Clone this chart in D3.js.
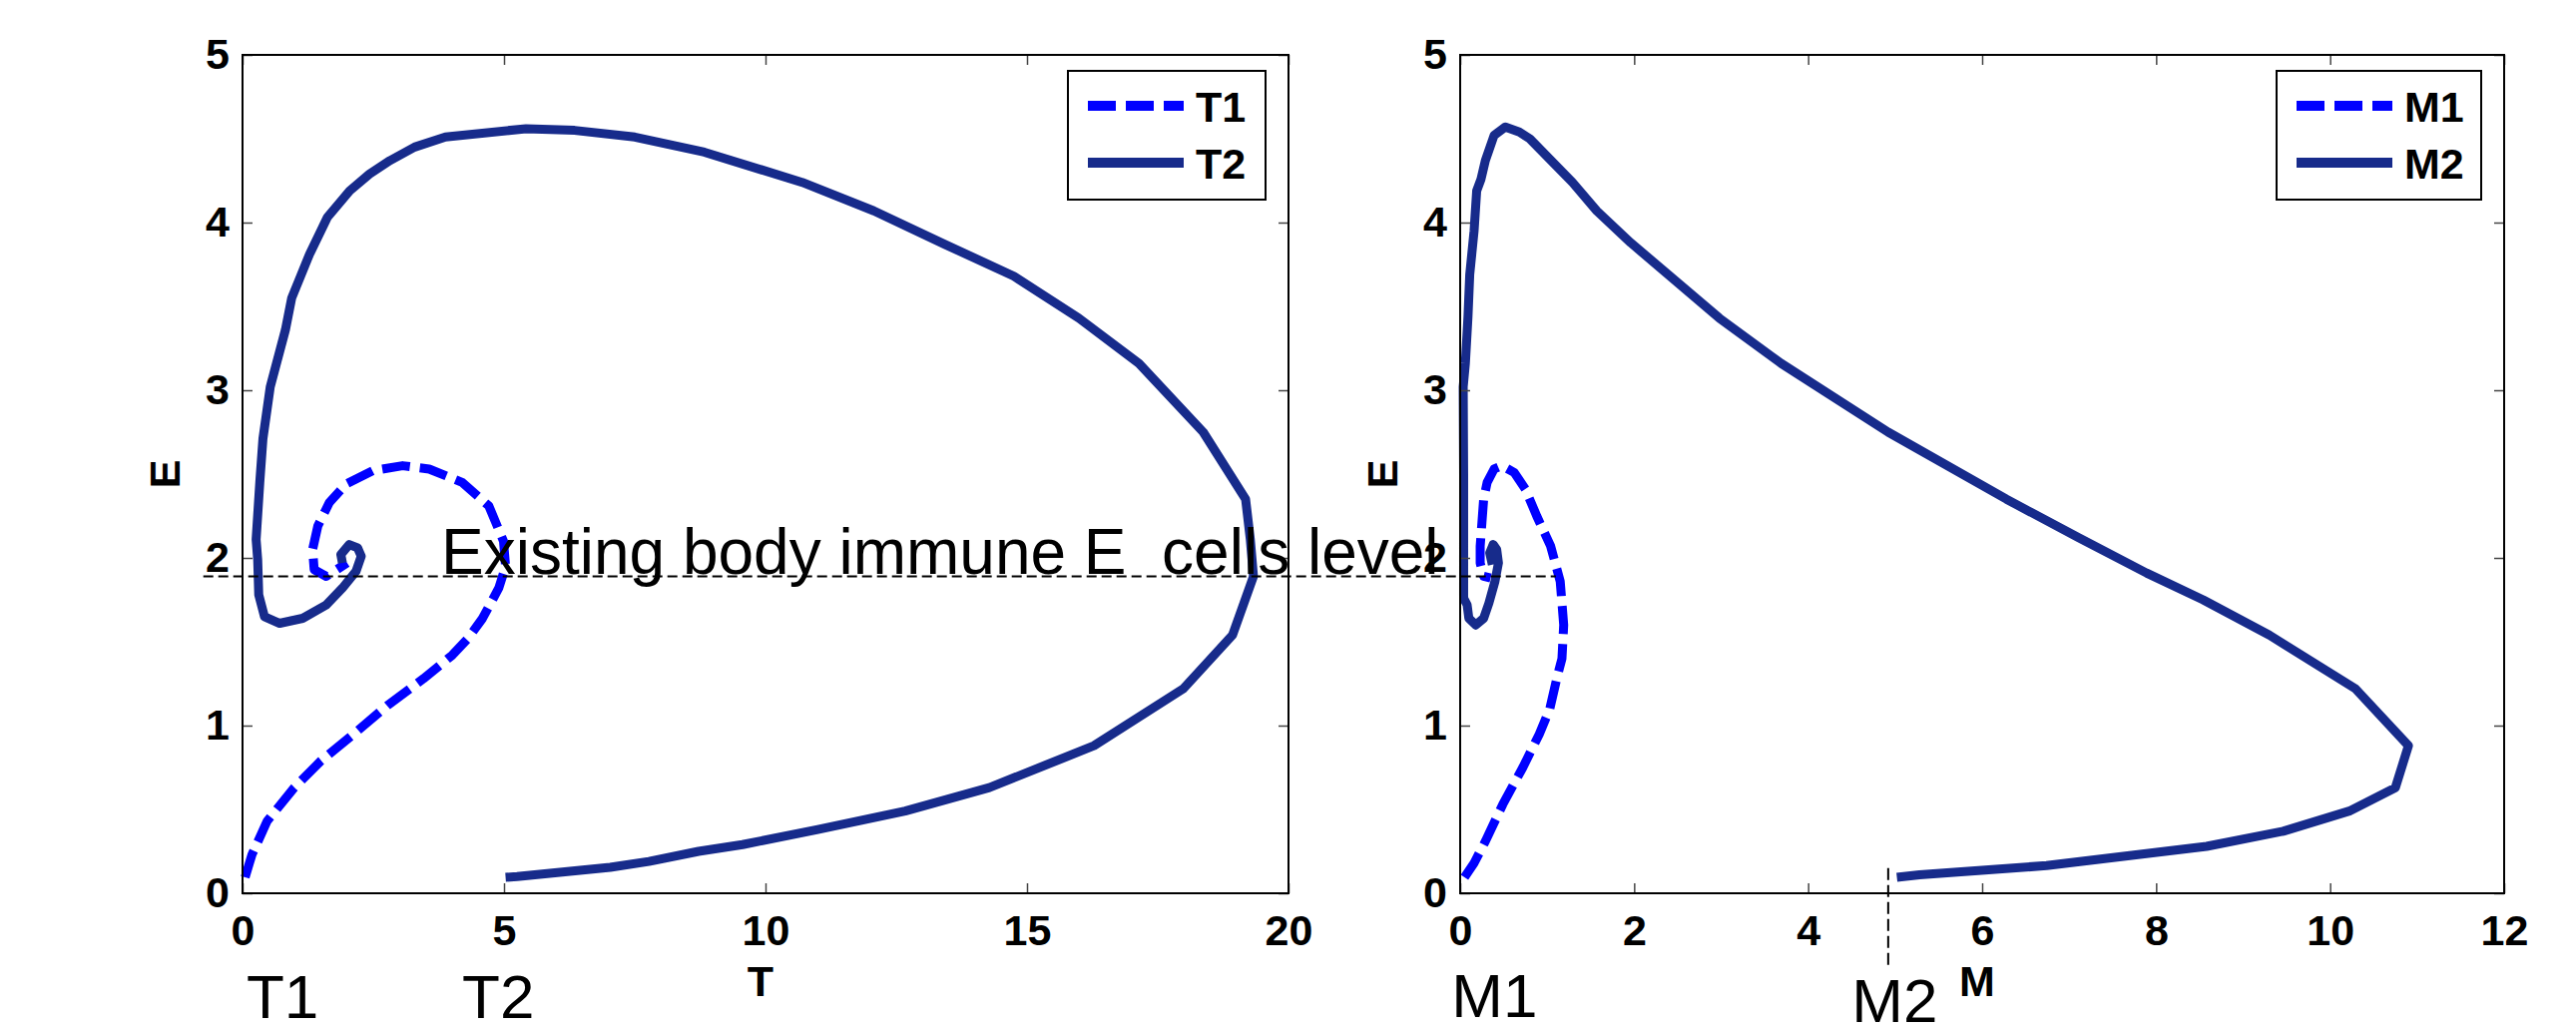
<!DOCTYPE html>
<html>
<head>
<meta charset="utf-8">
<script src="https://cdn.jsdelivr.net/npm/d3@7"></script>
<style>
  html, body { margin: 0; padding: 0; background: #fff; }
  svg text { font-family: "Liberation Sans", Arial, sans-serif; }
</style>
</head>
<body>
<div id="chart"></div>
<script>
// Trajectories: E against T (left) and E against M (right)
const t1T = [0.05, 0.18, 0.47, 0.99, 1.5, 2.09, 2.77, 3.46, 4.01, 4.31, 4.59, 4.9, 5.03, 4.99, 4.71, 4.20, 3.57, 3.06, 2.49, 1.98, 1.66, 1.44, 1.34, 1.37, 1.60, 2.0];
const t1E = [0.095, 0.23, 0.43, 0.63, 0.79, 0.94, 1.12, 1.28, 1.42, 1.52, 1.64, 1.82, 1.95, 2.10, 2.31, 2.45, 2.53, 2.55, 2.52, 2.44, 2.33, 2.19, 2.05, 1.93, 1.89, 1.97];

const t2T = [5.03, 5.25, 7.03, 7.77, 8.72, 9.56, 11.0, 12.67, 14.28, 16.28, 17.99, 18.93, 19.33, 19.27, 19.18, 18.37, 17.14, 15.99, 14.75, 13.43, 12.07, 10.7, 8.83, 7.5, 6.35, 5.42, 3.88, 3.29, 2.82, 2.43, 2.05, 1.62, 1.28, 0.94, 0.82, 0.53, 0.39, 0.33, 0.26, 0.29, 0.31, 0.42, 0.71, 1.15, 1.60, 1.91, 2.17, 2.27, 2.20, 2.04, 1.88, 1.91];
const t2E = [0.095, 0.10, 0.155, 0.19, 0.25, 0.29, 0.38, 0.49, 0.63, 0.88, 1.22, 1.54, 1.89, 2.11, 2.35, 2.75, 3.16, 3.43, 3.68, 3.87, 4.07, 4.24, 4.42, 4.51, 4.55, 4.56, 4.51, 4.45, 4.37, 4.29, 4.19, 4.03, 3.81, 3.55, 3.36, 3.02, 2.71, 2.45, 2.11, 1.99, 1.78, 1.65, 1.61, 1.64, 1.72, 1.82, 1.92, 2.01, 2.06, 2.08, 2.02, 1.97];

const m1M = [0.05, 0.16, 0.29, 0.49, 0.72, 0.91, 1.03, 1.11, 1.17, 1.19, 1.15, 1.04, 0.88, 0.75, 0.62, 0.48, 0.39, 0.31, 0.27, 0.25, 0.23, 0.23, 0.27, 0.35];
const m1E = [0.095, 0.18, 0.31, 0.53, 0.75, 0.95, 1.1, 1.28, 1.40, 1.60, 1.86, 2.07, 2.25, 2.41, 2.51, 2.55, 2.53, 2.45, 2.35, 2.21, 2.07, 1.97, 1.89, 1.88];

const m2M = [5.02, 5.28, 6.74, 8.58, 9.46, 10.22, 10.75, 10.9, 10.29, 9.3, 8.54, 7.89, 7.11, 6.28, 4.92, 3.69, 2.98, 1.96, 1.57, 1.29, 0.80, 0.68, 0.52, 0.39, 0.29, 0.24, 0.19, 0.16, 0.11, 0.09, 0.06, 0.035, 0.04, 0.04, 0.08, 0.10, 0.18, 0.27, 0.33, 0.40, 0.44, 0.42, 0.38, 0.34, 0.37];
const m2E = [0.095, 0.11, 0.165, 0.28, 0.37, 0.49, 0.63, 0.88, 1.22, 1.54, 1.75, 1.91, 2.12, 2.35, 2.75, 3.16, 3.43, 3.88, 4.07, 4.24, 4.50, 4.54, 4.57, 4.52, 4.37, 4.26, 4.19, 3.95, 3.69, 3.44, 3.16, 3.02, 2.5, 1.76, 1.72, 1.64, 1.60, 1.64, 1.73, 1.86, 1.97, 2.05, 2.08, 2.03, 1.96];

// ticks
const tTicks = [0, 5, 10, 15, 20];
const mTicks = [0, 2, 4, 6, 8, 10, 12];
const eTicks = [0, 1, 2, 3, 4, 5];

// annotations
const levelE = 1.89;          // existing immune level
const levelFromT = -0.75;     // line starts left of the T axis
const levelToM = 1.1;         // ... and ends inside the M panel
const m2Mark = 4.92;          // vertical marker at M2
const m2MarkE = [0.15, -0.44];

const W = 2581, H = 1033;
const navy = "#172b8b", blue = "#0000ff";
const lw = 9;

const svg = d3.select("#chart").append("svg")
    .attr("width", W).attr("height", H)
    .attr("viewBox", [0, 0, W, H]);
svg.append("rect").attr("width", W).attr("height", H).attr("fill", "#fff");

// Scales
const yE = d3.scaleLinear().domain([0, 5]).range([895, 55]);
const xT = d3.scaleLinear().domain([0, 20]).range([243, 1291]);
const xM = d3.scaleLinear().domain([0, 12]).range([1463, 2509]);

const fmt = d3.format("d");

function drawPanel(x, xTicks, xName, series, legendW) {
    const g = svg.append("g");
    const [x0, x1] = x.range();
    const [y0, y1] = yE.range();

    // curves
    const line = d3.line().x(d => x(d[0])).y(d => yE(d[1]));
    series.forEach(s => {
        g.append("path")
            .datum(d3.zip(s.xs, s.ys))
            .attr("d", line)
            .attr("fill", "none")
            .attr("stroke", s.color)
            .attr("stroke-width", lw)
            .attr("stroke-linejoin", "round")
            .attr("stroke-dasharray", s.dash ? "28,10" : null);
    });

    // ticks on all four sides, pointing inward
    const styleAxis = sel => {
        sel.select(".domain").remove();
        sel.selectAll(".tick line").attr("stroke", "#444").attr("stroke-width", 1.5);
        sel.selectAll("text")
            .attr("fill", "#000")
            .style("font-size", "43px")
            .style("font-weight", "bold");
    };
    g.append("g").attr("transform", `translate(0,${y0})`)
        .call(d3.axisBottom(x).tickValues(xTicks).tickFormat(fmt).tickSizeInner(-10).tickSizeOuter(0).tickPadding(21))
        .call(styleAxis);
    g.append("g").attr("transform", `translate(0,${y1})`)
        .call(d3.axisTop(x).tickValues(xTicks).tickSizeInner(-10).tickSizeOuter(0).tickFormat(""))
        .call(styleAxis);
    g.append("g").attr("transform", `translate(${x0},0)`)
        .call(d3.axisLeft(yE).tickValues(eTicks).tickFormat(fmt).tickSizeInner(-10).tickSizeOuter(0).tickPadding(13))
        .call(styleAxis);
    g.append("g").attr("transform", `translate(${x1},0)`)
        .call(d3.axisRight(yE).tickValues(eTicks).tickSizeInner(-10).tickSizeOuter(0).tickFormat(""))
        .call(styleAxis);

    // frame
    g.append("rect")
        .attr("x", x0).attr("y", y1)
        .attr("width", x1 - x0).attr("height", y0 - y1)
        .attr("fill", "none").attr("stroke", "#000").attr("stroke-width", 2);

    // axis labels
    g.append("text")
        .attr("x", (x0 + x1) / 2 - 5).attr("y", y0 + 103)
        .attr("text-anchor", "middle")
        .style("font-size", "43px").style("font-weight", "bold")
        .text(xName);
    g.append("text")
        .attr("transform", `translate(${x0 - 63},${(y0 + y1) / 2}) rotate(-90)`)
        .attr("text-anchor", "middle")
        .style("font-size", "43px").style("font-weight", "bold")
        .text("E");

    // legend
    const lx = x1 - 23 - legendW, ly = y1 + 16;
    const lg = g.append("g").attr("transform", `translate(${lx},${ly})`);
    lg.append("rect").attr("width", legendW).attr("height", 129)
        .attr("fill", "#fff").attr("stroke", "#000").attr("stroke-width", 2);
    series.forEach((s, i) => {
        const ry = 35 + i * 57;
        lg.append("line")
            .attr("x1", 20).attr("x2", 116).attr("y1", ry).attr("y2", ry)
            .attr("stroke", s.color).attr("stroke-width", 10)
            .attr("stroke-dasharray", s.dash ? "28,10" : null);
        lg.append("text")
            .attr("x", 128).attr("y", ry + 16)
            .style("font-size", "43px").style("font-weight", "bold")
            .text(s.name);
    });
}

drawPanel(xT, tTicks, "T", [
    { name: "T1", xs: t1T, ys: t1E, color: blue, dash: true },
    { name: "T2", xs: t2T, ys: t2E, color: navy, dash: false }
], 198);

drawPanel(xM, mTicks, "M", [
    { name: "M1", xs: m1M, ys: m1E, color: blue, dash: true },
    { name: "M2", xs: m2M, ys: m2E, color: navy, dash: false }
], 205);

// dashed reference lines
svg.append("line")
    .attr("x1", xT(levelFromT)).attr("x2", xM(levelToM))
    .attr("y1", yE(levelE)).attr("y2", yE(levelE))
    .attr("stroke", "#000").attr("stroke-width", 2).attr("stroke-dasharray", "10,5");
svg.append("line")
    .attr("x1", xM(m2Mark)).attr("x2", xM(m2Mark))
    .attr("y1", yE(m2MarkE[0])).attr("y2", yE(m2MarkE[1]))
    .attr("stroke", "#000").attr("stroke-width", 2).attr("stroke-dasharray", "12,5");

svg.append("text")
    .attr("x", 442).attr("y", 575)
    .style("font-size", "64px")
    .text("Existing body immune E\u00a0\u00a0cells level");

// start-point labels under the axes
const startLabels = [
    { text: "T1", x: xT(0) + 4, y: 1020 },
    { text: "T2", x: xT(4.2), y: 1020 },
    { text: "M1", x: xM(-0.1), y: 1019 },
    { text: "M2", x: xM(4.5), y: 1024 }
];
svg.selectAll(".start-label")
    .data(startLabels)
    .enter().append("text")
    .attr("class", "start-label")
    .attr("x", d => d.x).attr("y", d => d.y)
    .style("font-size", "62px")
    .text(d => d.text);
</script>
</body>
</html>
